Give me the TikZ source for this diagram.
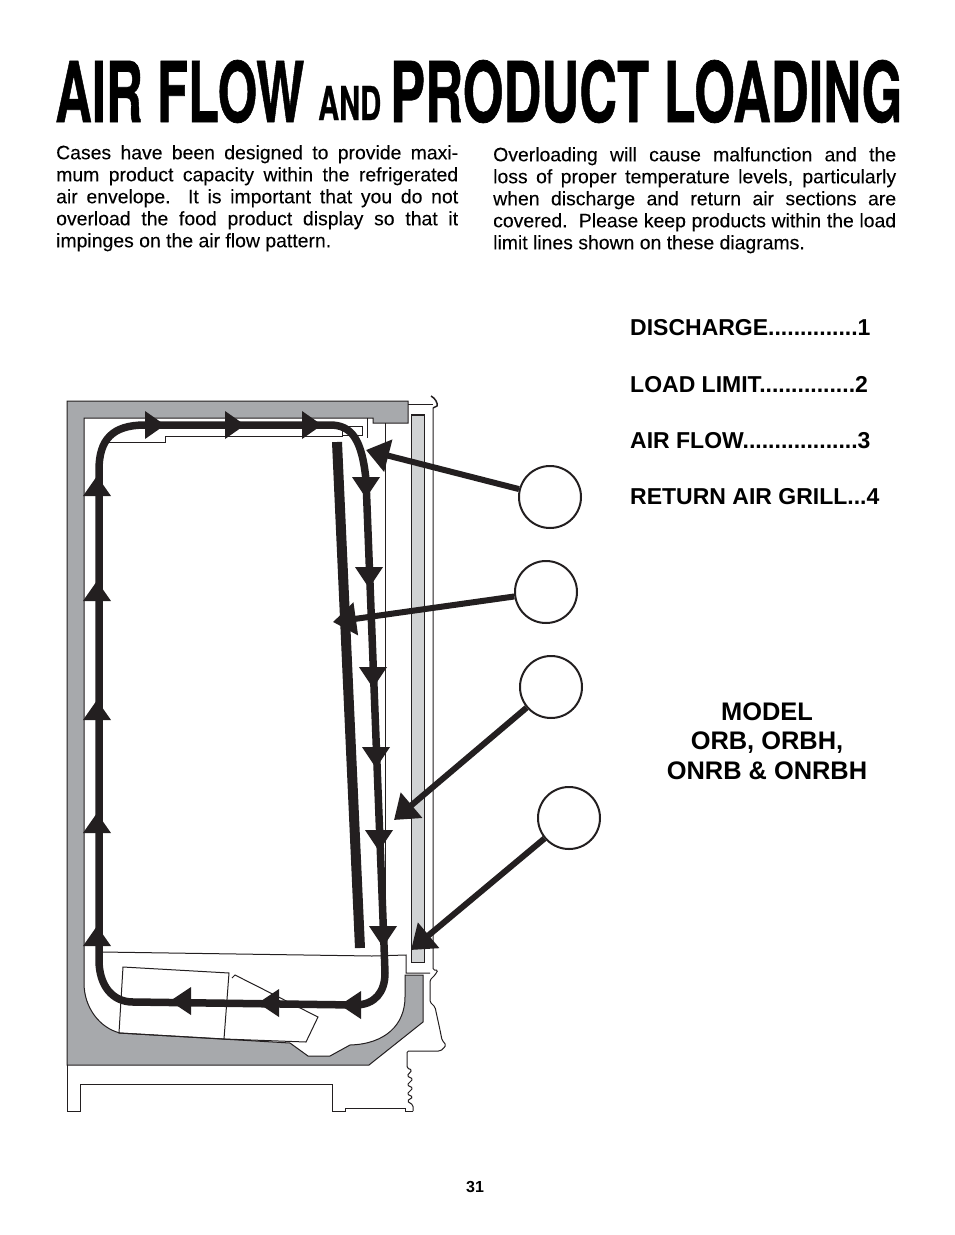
\documentclass[tikz,border=0pt]{standalone}
\usepackage{fontspec}
\setmainfont{Liberation Sans}
\newfontfamily\titlefont[FakeBold=0.85]{TeX Gyre Heros Bold}
\newfontfamily\parafont[FakeBold=0.12]{Liberation Sans}
\usetikzlibrary{arrows.meta,positioning}
\definecolor{WallGray}{RGB}{167,169,172}
\definecolor{GlassGray}{RGB}{209,211,212}
\definecolor{FlowBlack}{RGB}{35,31,32}
\tikzset{
  titlepart/.style={anchor=base west,inner sep=0pt},
  para/.style={anchor=north west,inner sep=0pt,align=justify,font=\fontsize{19.4}{22}\parafont},
  keyline/.style={anchor=base west,inner sep=0pt,font=\fontsize{23}{25}\selectfont\bfseries},
  modelline/.style={inner sep=0pt,font=\fontsize{25.4}{29.5}\selectfont\bfseries,align=center},
  callout/.style={circle,draw=FlowBlack,line width=2pt,fill=white,minimum size=62pt,inner sep=0pt},
  pointer/.style={draw=FlowBlack,line width=6pt,-{Triangle[length=23pt,width=32pt]}},
  thinline/.style={draw=FlowBlack,line width=1pt},
  flowline/.style={draw=FlowBlack,line width=7.5pt},
  flowhead/.style={fill=FlowBlack}
}
\begin{document}
\begin{tikzpicture}[x=1pt,y=-1pt]
  \useasboundingbox (0,0) rectangle (954,1235);
  \node[titlepart] (titlea) at (55,122) {\resizebox{249pt}{62pt}{\titlefont AIR FLOW}};
  \node[titlepart] (titleb) at (318,120) {\resizebox{63pt}{34pt}{\titlefont AND}};
  \node[titlepart] (titlec) at (390,122) {\resizebox{512pt}{62pt}{\titlefont PRODUCT LOADING}};
  \node[para,text width=402pt] (intro) at (56,145) {Cases have been designed to provide maxi-\linebreak
    mum product capacity within the refrigerated\linebreak
    air envelope.\ \ It is important that you do not\linebreak
    overload the food product display so that it\linebreak
    impinges on the air flow pattern.};
  \node[para,text width=403pt] (overload) at (493,147) {Overloading will cause malfunction and the\linebreak
    loss of proper temperature levels, particularly\linebreak
    when discharge and return air sections are\linebreak
    covered.\ \ Please keep products within the load\linebreak
    limit lines shown on these diagrams.};
  \node[keyline] (keya) at (630,335) {DISCHARGE..............1};
  \node[keyline] (keyb) at (630,392) {LOAD LIMIT...............2};
  \node[keyline] (keyc) at (630,448) {AIR FLOW..................3};
  \node[keyline] (keyd) at (630,504) {RETURN AIR GRILL...4};
  \node[modelline] (model) at (767,741) {MODEL\\ORB, ORBH,\\ONRB \& ONRBH};
  \node[inner sep=0pt,font=\fontsize{16}{19}\selectfont\bfseries] (page) at (475,1187) {31};
  % cabinet
  \fill[WallGray,draw=FlowBlack,line width=1pt] (67,401)--(408,401)--(408,423)--(373,423)--(373,418)--(84,418)--(84,983)
    .. controls (84,1008) and (100,1028) .. (120,1033)--(290,1043)--(308,1056)--(330,1056)--(350,1045)
    .. controls (385,1044) and (405,1025) .. (405,997)--(405,975)--(423,975)--(423,1022)--(369,1065)--(67,1065)--cycle;
  \fill[GlassGray,draw=FlowBlack,line width=1pt] (411.5,415) rectangle (424.5,962);
  \draw[FlowBlack,line width=2.5pt] (411,415)--(425,415);
  \draw[thinline] (408,404)--(433,404);
  \draw[FlowBlack,line width=1.5pt] (431,396) .. controls (435,398) and (438,403) .. (437,406)--(433,408);
  \draw[thinline,rounded corners=1.5pt] (433,408)--(433,970)--(438,970)--(435,975)--(430,980)--(430,1002)--(435,1007)--(440,1030)--(442,1040)--(446,1045)--(443,1049)--(440,1051)--(407,1051)--(407,1068)
    --(412,1070)--(407,1076)--(413,1079)--(407,1085)--(413,1088)--(407,1094)--(413,1097)--(407,1101)--(413,1105)--(413,1111);
  \draw[thinline] (413,1111)--(405,1111)--(405,1108)--(345,1108)--(345,1111)--(332,1111)--(332,1084)--(80,1084)--(80,1111)--(67,1111)--(67,1065);
  \draw[thinline] (385,423)--(385,955);
  \draw[thinline] (102,952)--(372,956)--(406,955)--(406,973)--(430,973);
  \draw[thinline] (108,442)--(165,442)--(165,436)--(342,436)--(342,426)--(362,426)--(362,435)--(342,435);
  \draw[thinline] (367,418)--(367,438);
  \draw[thinline] (123,967)--(229,973)--(224,1039)--(119,1033)--cycle;
  \draw[thinline] (224,1039)--(306,1042)--(318,1017)--(235,975)--(232,978);
  % load limit
  \draw[FlowBlack,line width=10pt] (337,442)--(360,948);
  % air flow
  \draw[flowline] (99,935)--(99,470) .. controls (99,440) and (112,425) .. (145,425)--(330,425)
    .. controls (352,425) and (362,440) .. (366,480)--(384,945)--(385,973)
    .. controls (385,992) and (375,1005) .. (355,1005)--(133,1002) .. controls (112,1002) and (99,985) .. (99,960)--cycle;
  \foreach \px/\py in {97/476,97/581,97/700,97/813,97/926}
    \fill[flowhead] (\px,\py)--(\px+14,\py+20)--(\px-14,\py+20)--cycle;
  \foreach \px/\py in {165/425,245/425,322/425}
    \fill[flowhead] (\px,\py)--(\px-20,\py-14)--(\px-20,\py+14)--cycle;
  \foreach \px/\py in {366/498,369/588,373/688,376/768,379/851,383/947}
    \fill[flowhead] (\px,\py)--(\px-14,\py-21)--(\px+14,\py-21)--cycle;
  \foreach \px/\py in {340/1005,258/1003,170/1001}
    \fill[flowhead] (\px,\py)--(\px+21,\py-14)--(\px+21,\py+14)--cycle;
  % callouts
  \node[callout] (one) at (550,497) {};
  \node[callout] (two) at (546,592) {};
  \node[callout] (three) at (551,687) {};
  \node[callout] (four) at (569,818) {};
  \coordinate (discharge) at (366,450);
  \coordinate (limit) at (333,622);
  \coordinate (flow) at (394,820);
  \coordinate (grill) at (411,950);
  \draw[pointer] (one)--(discharge);
  \draw[pointer] (two)--(limit);
  \draw[pointer] (three)--(flow);
  \draw[pointer] (four)--(grill);
\end{tikzpicture}
\end{document}
